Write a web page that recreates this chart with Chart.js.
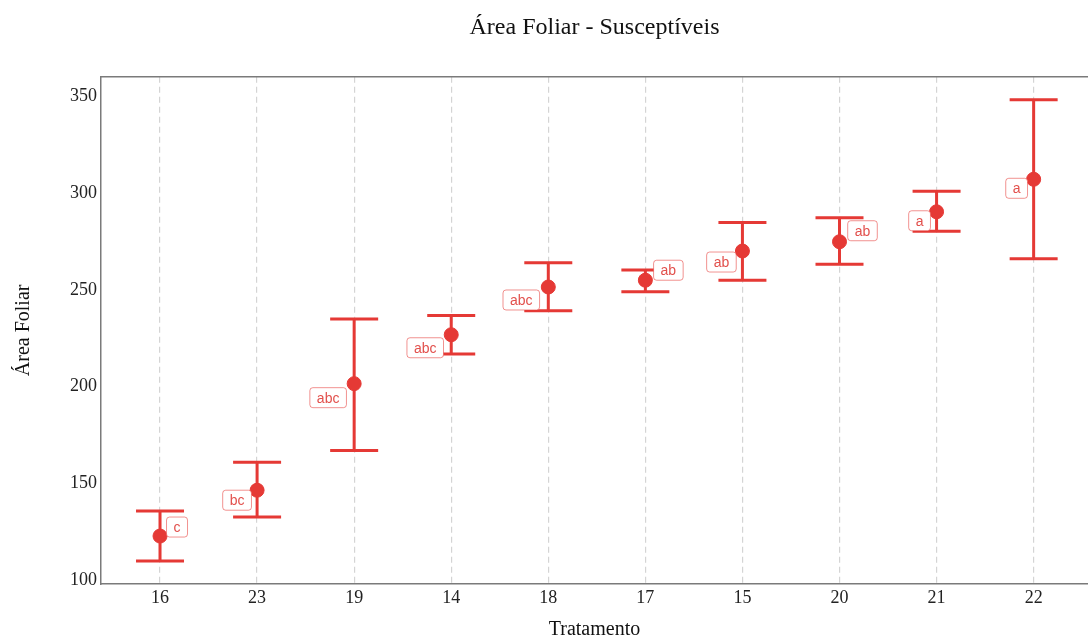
<!DOCTYPE html>
<html>
<head>
<meta charset="utf-8">
<script src="https://cdn.jsdelivr.net/npm/chart.js@4/dist/chart.umd.min.js"></script>
<style>
  body { margin: 0; background: #fff; }
  #wrap { width: 1088px; height: 642px; }
</style>
</head>
<body>
<div id="wrap"><canvas id="myChart" width="1088" height="642"></canvas></div>
<script>
// tratamentos, na ordem do eixo
const tratamentos = ['16', '23', '19', '14', '18', '17', '15', '20', '21', '22'];
const medias   = [122.7, 146.4, 201.5, 226.8, 251.5, 255.0, 270.1, 274.9, 290.4, 307.2];
const inferior = [109.8, 132.5, 167.0, 216.9, 239.2, 249.1, 255.0, 263.2, 280.3, 266.1];
const superior = [135.6, 160.8, 235.0, 236.8, 264.0, 260.3, 284.9, 287.3, 301.0, 348.3];
const letras   = ['c', 'bc', 'abc', 'abc', 'abc', 'ab', 'ab', 'ab', 'a', 'a'];
const yTicks   = [100, 150, 200, 250, 300, 350];

// deslocamento (px) das etiquetas em relação ao ponto
const etqDx = [17, -20, -26, -26, -27, 23, -21, 23, -17, -17];
const etqDy = [-9, 10, 14, 13, 13, -10, 11, -11, 9, 9];

const vermelho = '#e53935';
const serif = '"Liberation Serif", "Times New Roman", serif';

const pontos = medias.map((m, i) => ({ x: i, y: m }));

const barrasErro = {
	id: 'barrasErro',
	beforeDatasetsDraw(chart) {
		const { ctx, chartArea, scales: { x, y } } = chart;
		ctx.save();
		// borda superior do painel
		ctx.strokeStyle = '#7a7a7a';
		ctx.lineWidth = 1.5;
		ctx.beginPath();
		ctx.moveTo(chartArea.left, chartArea.top);
		ctx.lineTo(chartArea.right, chartArea.top);
		ctx.stroke();

		ctx.strokeStyle = vermelho;
		ctx.lineWidth = 3;
		for (let i = 0; i < medias.length; i++) {
			const px = x.getPixelForValue(i);
			const yl = y.getPixelForValue(inferior[i]);
			const yu = y.getPixelForValue(superior[i]);
			ctx.beginPath();
			ctx.moveTo(px, yl); ctx.lineTo(px, yu);
			ctx.moveTo(px - 24, yl); ctx.lineTo(px + 24, yl);
			ctx.moveTo(px - 24, yu); ctx.lineTo(px + 24, yu);
			ctx.stroke();
		}
		ctx.restore();
	},
	afterDatasetsDraw(chart) {
		const { ctx, scales: { x, y } } = chart;
		ctx.save();
		ctx.font = '14px "Liberation Sans", Arial, sans-serif';
		ctx.textAlign = 'center';
		ctx.textBaseline = 'middle';
		for (let i = 0; i < letras.length; i++) {
			const px = x.getPixelForValue(i);
			const py = y.getPixelForValue(medias[i]);
			const cx = px + etqDx[i];
			const cy = py + etqDy[i];
			const w = ctx.measureText(letras[i]).width + 14;
			const h = 20;
			ctx.fillStyle = '#fff';
			ctx.strokeStyle = 'rgba(229, 57, 53, 0.55)';
			ctx.lineWidth = 1;
			ctx.beginPath();
			ctx.roundRect(cx - w / 2, cy - h / 2, w, h, 3);
			ctx.fill();
			ctx.stroke();
			ctx.fillStyle = '#e2504c';
			ctx.fillText(letras[i], cx, cy + 1);
		}
		ctx.restore();
	}
};

const ctx = document.getElementById('myChart').getContext('2d');
const myChart = new Chart(ctx, {
	type: 'scatter',
	data: {
		datasets: [{
			data: pontos,
			backgroundColor: vermelho,
			borderColor: vermelho,
			pointRadius: 7,
			pointHoverRadius: 7
		}]
	},
	options: {
		responsive: false,
		animation: false,
		layout: { padding: 0, autoPadding: false },
		plugins: {
			legend: { display: false },
			tooltip: { enabled: false },
			title: {
				display: true,
				fullSize: false,
				text: 'Área Foliar - Susceptíveis',
				color: '#111',
				font: { family: serif, size: 24, weight: 'normal' },
				padding: { top: 13, bottom: 35 }
			}
		},
		scales: {
			x: {
				type: 'linear',
				min: -0.608,
				max: 9.56,
				afterBuildTicks: (axis) => { axis.ticks = tratamentos.map((t, i) => ({ value: i })); },
				afterFit: (axis) => { axis.height = 58; },
				ticks: {
					color: '#222',
					font: { family: serif, size: 18 },
					padding: 3,
					maxRotation: 0,
					callback: (v) => tratamentos[v]
				},
				grid: { color: '#d4d4d4', lineWidth: 1.2, drawTicks: false },
				border: { display: true, color: '#7a7a7a', width: 1.5, dash: [6, 4] },
				title: {
					display: true,
					text: 'Tratamento',
					color: '#111',
					font: { family: serif, size: 20 },
					padding: { top: 0, bottom: 0 }
				}
			},
			y: {
				min: 97.9,
				max: 360.2,
				afterBuildTicks: (axis) => { axis.ticks = yTicks.map(v => ({ value: v })); },
				afterFit: (axis) => { axis.width = 101; },
				ticks: {
					color: '#222',
					font: { family: serif, size: 18 },
					padding: 4
				},
				grid: { display: false, drawTicks: false },
				border: { display: true, color: '#7a7a7a', width: 1.5 },
				title: {
					display: true,
					text: 'Área Foliar',
					color: '#111',
					font: { family: serif, size: 20 },
					padding: { top: 12, bottom: 0 }
				}
			}
		}
	},
	plugins: [barrasErro]
});
</script>
</body>
</html>
